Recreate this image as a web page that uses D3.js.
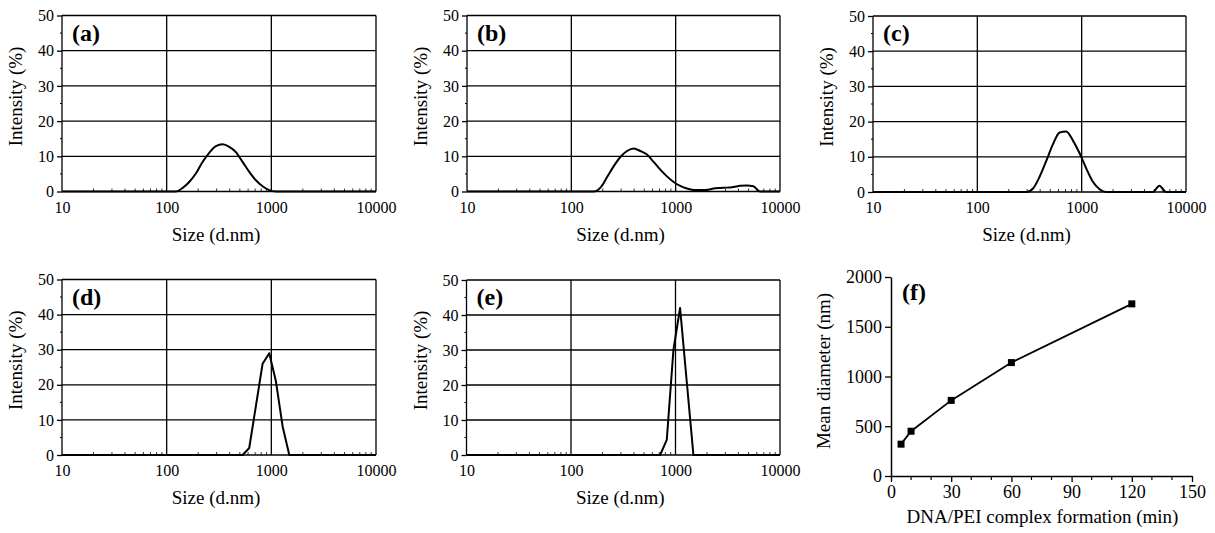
<!DOCTYPE html>
<html>
<head>
<meta charset="utf-8">
<script src="https://cdn.jsdelivr.net/npm/d3@7"></script>
<style>
  body { margin: 0; background: #fff; }
  svg text { font-family: 'Liberation Serif', 'Times New Roman', serif; fill: #000; }
</style>
</head>
<body>
<script>
// tick values
var sizeTicks = [10, 100, 1000, 10000];
var intensityTicks = [0, 10, 20, 30, 40, 50];
var timeTicks = [0, 30, 60, 90, 120, 150];
var diameterTicks = [0, 500, 1000, 1500, 2000];
var panelLabels = ['(a)', '(b)', '(c)', '(d)', '(e)', '(f)'];

// size distributions (size in d.nm, intensity in %)
var sizesA = [10, 122.4, 141.8, 164.2, 190.1, 220.2, 255.0, 295.3, 342.0, 396.1, 458.7, 531.2, 615.1, 712.4, 825.0, 955.4, 1106, 10000];
var intensA = [0, 0, 1.0, 2.7, 5.1, 8.4, 11.0, 12.9, 13.4, 12.7, 11.2, 8.4, 5.6, 3.2, 1.5, 0.4, 0, 0];

var sizesB = [10, 164.2, 190.1, 220.2, 255.0, 295.3, 342.0, 396.1, 458.7, 531.2, 615.1, 712.4, 825.0, 955.4, 1106, 1281, 1484, 1718, 1990, 2305, 2669, 3091, 3580, 4145, 4801, 5560, 6439, 10000];
var intensB = [0, 0, 1.1, 4.1, 7.2, 9.8, 11.5, 12.2, 11.5, 10.5, 8.4, 6.2, 4.3, 2.7, 1.6, 0.85, 0.45, 0.4, 0.45, 0.85, 1.0, 1.1, 1.3, 1.6, 1.7, 1.5, 0, 0];

var sizesC = [10, 295.3, 342.0, 396.1, 458.7, 531.2, 615.1, 712.4, 825.0, 955.4, 1106, 1281, 1484, 1718, 4801, 5560, 6439, 10000];
var intensC = [0, 0, 1.0, 4.4, 8.9, 13.6, 16.9, 17.2, 14.6, 11.0, 6.7, 2.9, 0.8, 0, 0, 1.8, 0, 0];

var sizesD = [10, 531.2, 615.1, 712.4, 825.0, 955.4, 1106, 1281, 1484, 10000];
var intensD = [0, 0, 2.0, 14.0, 26.0, 29.0, 21.0, 8.2, 0, 0];

var sizesE = [10, 712.4, 825.0, 955.4, 1106, 1281, 1484, 10000];
var intensE = [0, 0, 4.3, 30.0, 42.0, 21.0, 0, 0];

// mean diameter vs complex formation time
var timeMin = [5, 10, 30, 60, 120];
var meanDiameter = [320, 450, 760, 1140, 1730];

var width = 1215, height = 533;
var serif = "'Liberation Serif', 'Times New Roman', serif";

const svg = d3.select('body')
  .append('svg')
    .attr('width', width)
    .attr('height', height);

// plot boxes for the five distribution panels
var boxes = [
  {x0: 62, x1: 376, y0: 15.5, y1: 191.5},
  {x0: 467, x1: 780, y0: 15.5, y1: 191.5},
  {x0: 873, x1: 1186, y0: 16, y1: 192},
  {x0: 62, x1: 376, y0: 279.5, y1: 455},
  {x0: 466.5, x1: 780, y0: 280, y1: 455}
];

var dist = [
  {sizes: sizesA, values: intensA, smooth: true},
  {sizes: sizesB, values: intensB, smooth: true},
  {sizes: sizesC, values: intensC, smooth: true},
  {sizes: sizesD, values: intensD, smooth: false},
  {sizes: sizesE, values: intensE, smooth: false}
];

function styleAxis(a, size) {
  a.attr('font-family', serif).attr('font-size', size);
  a.selectAll('text').style('font-size', size + 'px').style('font-family', serif);
}

function drawDistribution(i) {
  var b = boxes[i];
  var x = d3.scaleLog().domain([10, 10000]).range([b.x0, b.x1]);
  var y = d3.scaleLinear().domain([0, 50]).range([b.y1, b.y0]);
  var g = svg.append('g');

  // horizontal grid
  g.selectAll('.hgrid')
    .data(intensityTicks)
    .enter()
    .append('line')
      .attr('x1', b.x0).attr('x2', b.x1)
      .attr('y1', function(d) { return y(d); })
      .attr('y2', function(d) { return y(d); })
      .attr('stroke', '#000')
      .attr('stroke-width', 1.3);

  // vertical grid
  g.selectAll('.vgrid')
    .data(sizeTicks)
    .enter()
    .append('line')
      .attr('x1', function(d) { return x(d); })
      .attr('x2', function(d) { return x(d); })
      .attr('y1', b.y0).attr('y2', b.y1)
      .attr('stroke', '#000')
      .attr('stroke-width', 1.3);

  // minor ticks on the size axis
  var minor = [];
  [10, 100, 1000].forEach(function(dec) {
    for (var k = 2; k <= 9; k++) minor.push(dec * k);
  });
  g.selectAll('.xminor')
    .data(minor)
    .enter()
    .append('line')
      .attr('x1', function(d) { return x(d); })
      .attr('x2', function(d) { return x(d); })
      .attr('y1', b.y1).attr('y2', b.y1 - 3)
      .attr('stroke', '#000')
      .attr('stroke-width', 0.8);

  // minor ticks on the intensity axis
  g.selectAll('.yminor')
    .data([5, 15, 25, 35, 45])
    .enter()
    .append('line')
      .attr('x1', b.x0 - 2).attr('x2', b.x0)
      .attr('y1', function(d) { return y(d); })
      .attr('y2', function(d) { return y(d); })
      .attr('stroke', '#000')
      .attr('stroke-width', 1);

  // y axis
  g.append('g')
    .attr('transform', 'translate(' + b.x0 + ',0)')
    .call(d3.axisLeft(y).tickValues(intensityTicks).tickSize(5).tickPadding(3))
    .call(function(a) { a.select('.domain').remove(); })
    .call(function(a) {
      a.selectAll('line').attr('stroke', '#000').attr('stroke-width', 1.3);
      styleAxis(a, 16);
    });

  // x axis
  g.append('g')
    .attr('transform', 'translate(0,' + b.y1 + ')')
    .call(d3.axisBottom(x).tickValues(sizeTicks).tickSize(0).tickPadding(10).tickFormat(d3.format('d')))
    .call(function(a) { a.select('.domain').remove(); })
    .call(function(a) { styleAxis(a, 16); });

  // distribution curve
  var pts = dist[i].sizes.map(function(s, j) { return [s, dist[i].values[j]]; });
  var line = d3.line()
    .x(function(d) { return x(d[0]); })
    .y(function(d) { return y(d[1]); })
    .curve(dist[i].smooth ? d3.curveMonotoneX : d3.curveLinear);

  g.append('path')
    .datum(pts)
    .attr('d', line)
    .attr('fill', 'none')
    .attr('stroke', '#000')
    .attr('stroke-width', 2)
    .attr('stroke-linejoin', 'round');

  // axis titles
  g.append('text')
    .attr('x', (b.x0 + b.x1) / 2 - 3)
    .attr('y', b.y1 + 49)
    .attr('text-anchor', 'middle')
    .style('font-size', '19px')
    .text('Size (d.nm)');

  g.append('text')
    .attr('transform', 'translate(' + (b.x0 - 40) + ',' + ((b.y0 + b.y1) / 2 - 7) + ') rotate(-90)')
    .attr('text-anchor', 'middle')
    .style('font-size', '19px')
    .text('Intensity (%)');

  // panel label
  g.append('text')
    .attr('x', b.x0 + 10)
    .attr('y', b.y0 + 25)
    .style('font-size', '24px')
    .style('font-weight', 'bold')
    .text(panelLabels[i]);
}

for (var i = 0; i < 5; i++) drawDistribution(i);

// panel (f)
function drawMeanDiameter() {
  var x = d3.scaleLinear().domain([0, 150]).range([891, 1192]);
  var y = d3.scaleLinear().domain([0, 2000]).range([476, 277]);
  var g = svg.append('g');

  var xAxis = g.append('g')
    .attr('transform', 'translate(0,' + y(0) + ')')
    .call(d3.axisBottom(x).tickValues(timeTicks).tickSize(6).tickSizeOuter(0).tickPadding(3).tickFormat(d3.format('d')));

  var yAxis = g.append('g')
    .attr('transform', 'translate(' + x(0) + ',0)')
    .call(d3.axisLeft(y).tickValues(diameterTicks).tickSize(6).tickSizeOuter(0).tickPadding(3).tickFormat(d3.format('d')));

  [xAxis, yAxis].forEach(function(a) {
    a.select('.domain').attr('stroke', '#000').attr('stroke-width', 1.5);
    a.selectAll('line').attr('stroke', '#000').attr('stroke-width', 1.3);
    styleAxis(a, 18);
  });

  var minorT = d3.range(10, 150, 10).filter(function(d) { return d % 30 !== 0; });
  g.selectAll('.fminor')
    .data(minorT)
    .enter()
    .append('line')
      .attr('x1', function(d) { return x(d); })
      .attr('x2', function(d) { return x(d); })
      .attr('y1', y(0)).attr('y2', y(0) + 4)
      .attr('stroke', '#000')
      .attr('stroke-width', 1.2);

  var pts = timeMin.map(function(t, j) { return [t, meanDiameter[j]]; });
  g.append('path')
    .datum(pts)
    .attr('d', d3.line().x(function(d) { return x(d[0]); }).y(function(d) { return y(d[1]); }))
    .attr('fill', 'none')
    .attr('stroke', '#000')
    .attr('stroke-width', 1.8);

  g.selectAll('.marker')
    .data(pts)
    .enter()
    .append('rect')
      .attr('x', function(d) { return x(d[0]) - 3.5; })
      .attr('y', function(d) { return y(d[1]) - 3.5; })
      .attr('width', 7)
      .attr('height', 7)
      .attr('fill', '#000');

  g.append('text')
    .attr('x', (x(0) + x(150)) / 2 + 1)
    .attr('y', 523)
    .attr('text-anchor', 'middle')
    .style('font-size', '19px')
    .text('DNA/PEI complex formation (min)');

  g.append('text')
    .attr('transform', 'translate(' + (x(0) - 61) + ',' + 371 + ') rotate(-90)')
    .attr('text-anchor', 'middle')
    .style('font-size', '19px')
    .text('Mean diameter (nm)');

  g.append('text')
    .attr('x', 902)
    .attr('y', 300)
    .style('font-size', '24px')
    .style('font-weight', 'bold')
    .text(panelLabels[5]);
}

drawMeanDiameter();
</script>
</body>
</html>
